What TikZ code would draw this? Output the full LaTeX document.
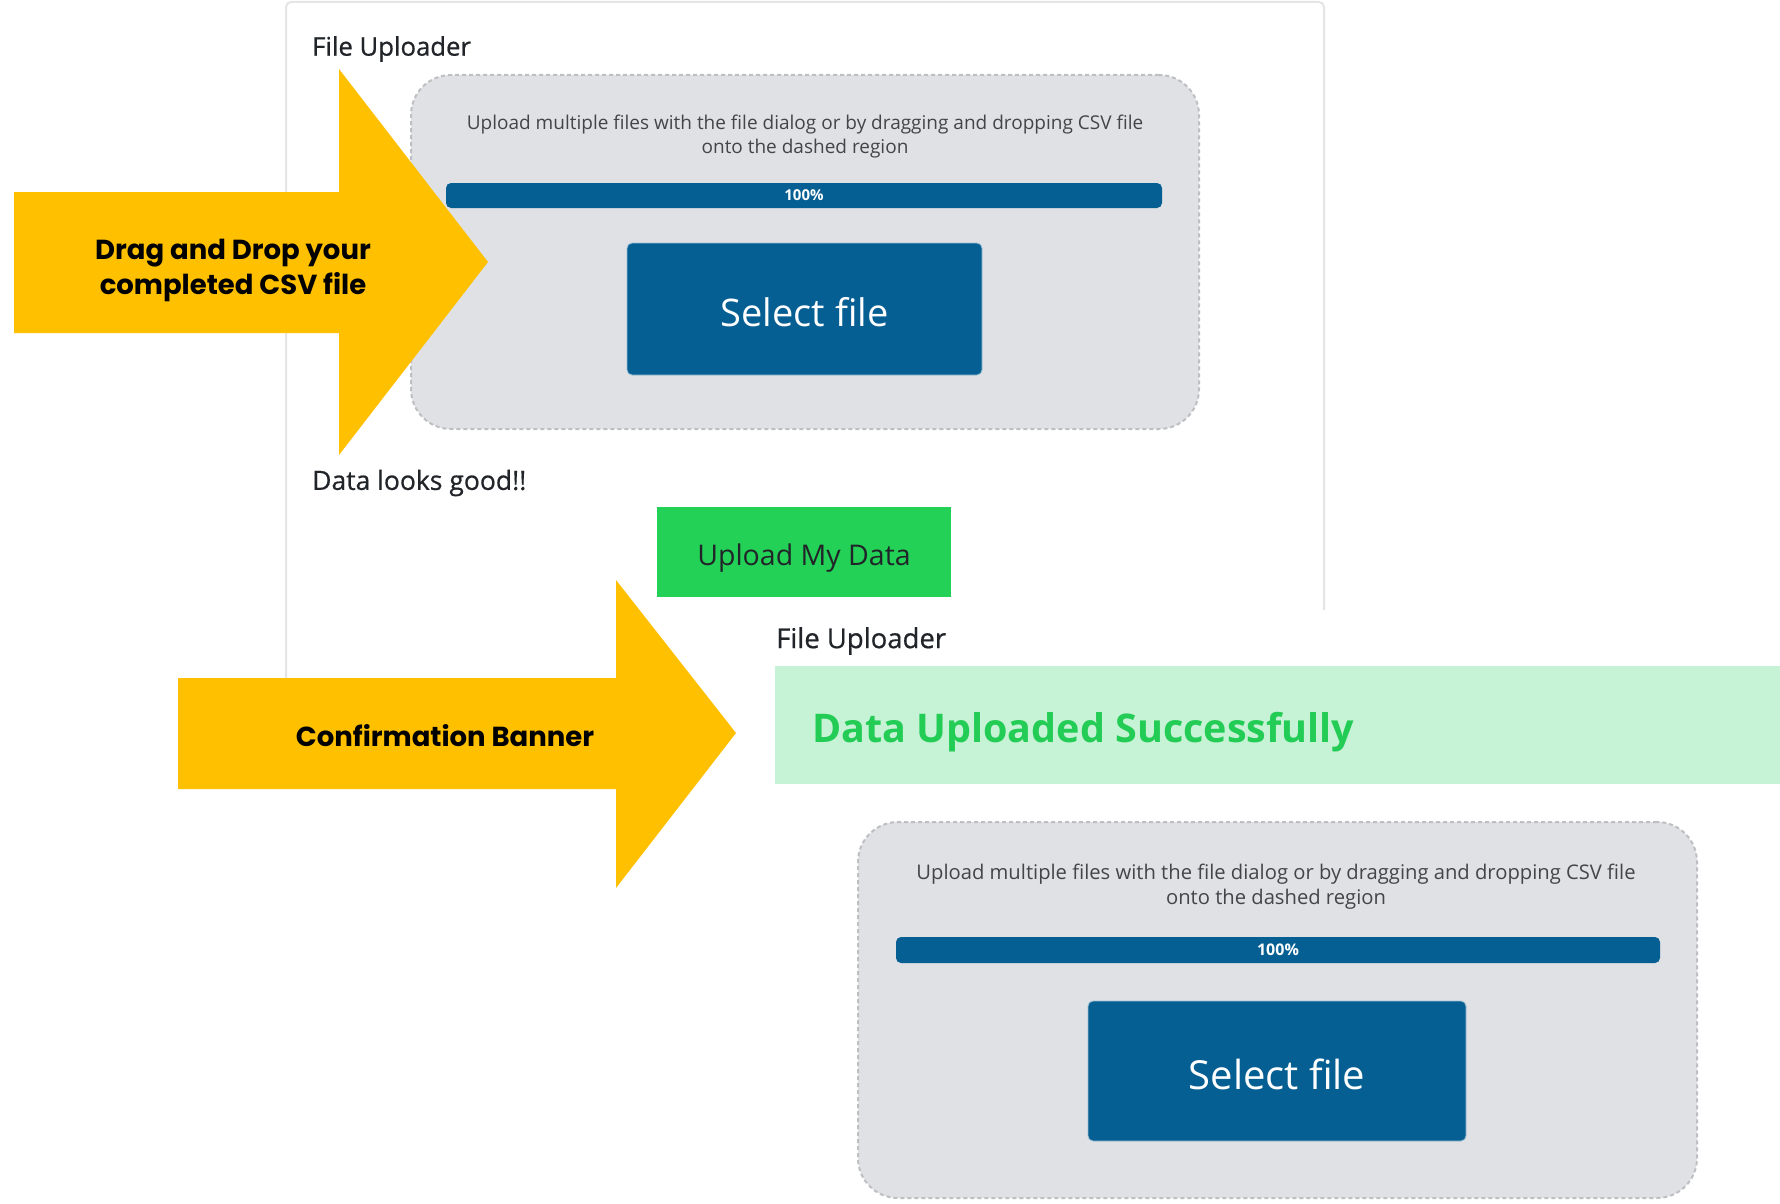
\documentclass[tikz,border=0pt]{standalone}
\usepackage{fontspec}
\setmainfont{Open Sans}
\newfontfamily\headfont[FakeBold=0.6]{Open Sans}
\newfontfamily\calloutfont{Poppins}

\definecolor{callout}{HTML}{FFC000}
\definecolor{btnblue}{HTML}{065F93}
\definecolor{zonefill}{HTML}{DFE1E5}
\definecolor{zoneline}{HTML}{BEBFC2}
\definecolor{okgreen}{HTML}{22D155}
\definecolor{okbanner}{HTML}{C6F2D5}
\definecolor{okbannertext}{HTML}{22CC55}
\definecolor{inktext}{HTML}{212529}
\definecolor{panelline}{HTML}{E4E5E7}

\tikzset{
  plain/.style={inner sep=0pt, text=inktext},
  heading/.style={plain, anchor=west, font=\headfont\fontsize{#1}{#1}\selectfont},
  dropzone/.style={draw=zoneline, fill=zonefill, line width=2pt,
    dash pattern=on 4pt off 3pt, rounded corners=40pt, inner sep=0pt},
  bar/.style={fill=btnblue, rounded corners=5pt, inner sep=0pt,
    text=white, font=\bfseries\fontsize{#1}{#1}\selectfont},
  selectbtn/.style={fill=btnblue, draw=btnblue!40!white, line width=0.8pt,
    rounded corners=5pt, inner sep=0pt},
  btnlabel/.style={inner sep=0pt, text=white, font=\fontsize{#1}{#1}\selectfont},
  helptext/.style={plain, align=center, text=inktext!85!white},
  calloutarrow/.style={fill=callout},
  callouttext/.style={inner sep=0pt, align=center, text=black,
    font=\calloutfont\bfseries\fontsize{27.5}{35}\selectfont},
}

\begin{document}
\begin{tikzpicture}[x=1pt,y=-1pt]
\useasboundingbox (0,0) rectangle (1780,1204);
\fill[white] (0,0) rectangle (1780,1204);

% ---- upper screen: file chosen, data checked ----
\draw[panelline, line width=2pt, rounded corners=5pt]
  (286,730) -- (286,2) -- (1324,2) -- (1324,610);

\node[heading=25.7] (titleA) at (312,49) {File Uploader};

\node[dropzone, minimum width=788pt, minimum height=354pt] (zoneA) at (805,252) {};
\node[helptext, font=\fontsize{19}{24}\selectfont] (helpA) at (805,136.5)
  {Upload multiple files with the file dialog or by dragging and dropping CSV file\\
   onto the dashed region};
\node[bar=15, minimum width=716pt, minimum height=25pt] (barA) at (804,195.5) {100\%};
\node[selectbtn, minimum width=355pt, minimum height=132pt] (selA) at (804.5,309) {};
\node[btnlabel=38] (selAText) at (804.5,312) {Select file};

\node[heading=26.5] (checkA) at (312,483) {Data looks good!!};
\node[fill=okgreen, inner sep=0pt, minimum width=294pt, minimum height=90pt] (uploadA) at (804,552) {};
\node[inner sep=0pt, text=inktext, font=\fontsize{28.5}{28.5}\selectfont]
  (uploadAText) at (804,558) {Upload My Data};

% ---- lower screen: upload confirmed ----
\fill[white] (740,612) rectangle (1780,1204);
\node[heading=27.5] (titleB) at (776,641) {File Uploader};
\node[fill=okbanner, inner sep=0pt, minimum width=1005pt, minimum height=118pt]
  (banner) at (1277.5,725) {};
\node[inner sep=0pt, anchor=west, text=okbannertext,
  font=\bfseries\fontsize{39.5}{39.5}\selectfont] (bannerText) at (812,732)
  {Data Uploaded Successfully};

\node[dropzone, minimum width=839pt, minimum height=376pt] (zoneB) at (1277.5,1010) {};
\node[helptext, font=\fontsize{20.2}{25}\selectfont] (helpB) at (1276,887)
  {Upload multiple files with the file dialog or by dragging and dropping CSV file\\
   onto the dashed region};
\node[bar=16, minimum width=764pt, minimum height=26pt] (barB) at (1278,950) {100\%};
\node[selectbtn, minimum width=378pt, minimum height=140pt] (selB) at (1277,1071) {};
\node[btnlabel=40] (selBText) at (1277,1074) {Select file};

% ---- yellow callout arrows ----
\fill[calloutarrow] (14,192) -- (339,192) -- (339,69) -- (488,262)
  -- (339,455) -- (339,333) -- (14,333) -- cycle;
\node[callouttext] (dragText) at (233,270.5) {Drag and Drop your\\completed CSV file};

\fill[calloutarrow] (178,678) -- (616,678) -- (616,580) -- (736,733)
  -- (616,888) -- (616,789) -- (178,789) -- cycle;
\node[callouttext] (confText) at (445,736) {Confirmation Banner};
\end{tikzpicture}
\end{document}
